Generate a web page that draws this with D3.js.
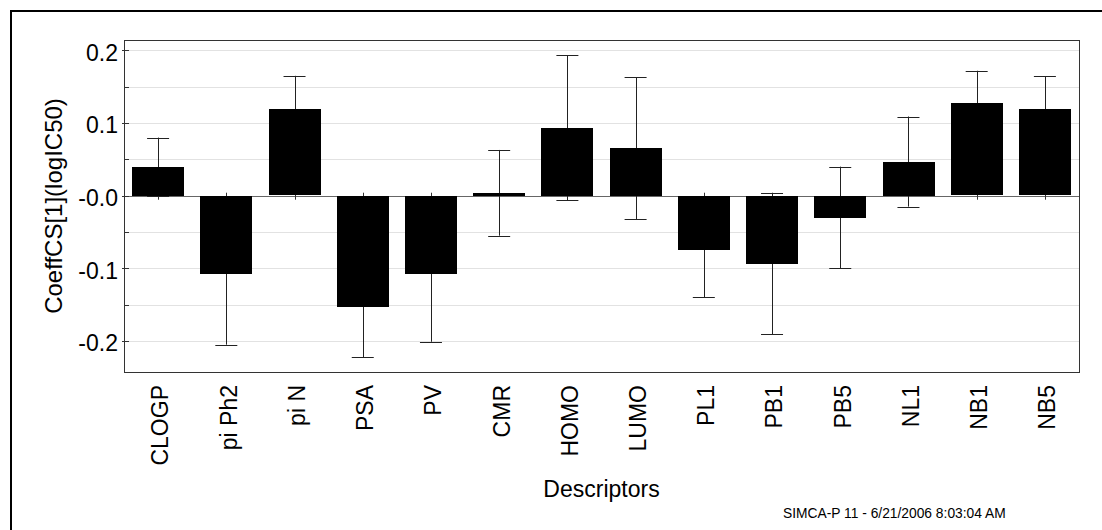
<!DOCTYPE html>
<html lang="en">
	<head>
		<meta charset="utf-8">
		<title>CoeffCS Descriptors</title>
		<script type="text/javascript" src="https://cdn.jsdelivr.net/npm/d3@7"></script>
		<style>
			body { margin: 0; background: #fff; }
			text { font-family: "Liberation Sans", Arial, sans-serif; fill: #000; }
		</style>
	</head>
	<body>
		<script type="text/javascript">

			var w = 1102;
			var h = 530;

			// plot box
			var plotLeft = 124, plotRight = 1079, plotTop = 40, plotBottom = 372;

			var categories = ["CLOGP", "pi Ph2", "pi N", "PSA", "PV", "CMR", "HOMO", "LUMO", "PL1", "PB1", "PB5", "NL1", "NB1", "NB5"];
			var coeff = [0.040, -0.108, 0.119, -0.153, -0.108, 0.004, 0.0935, 0.0655, -0.0745, -0.0935, -0.030, 0.047, 0.127, 0.119];
			var errs = [0.040, 0.097, 0.046, 0.069, 0.093, 0.059, 0.100, 0.0975, 0.065, 0.097, 0.070, 0.062, 0.045, 0.0455];

			var majorTicks = [0.2, 0.1, 0, -0.1, -0.2];
			var tickLabels = ["0.2", "0.1", "-0.0", "-0.1", "-0.2"];
			var minorTicks = [0.15, 0.05, -0.05, -0.15];

			var xScale = d3.scaleBand()
						   .domain(categories)
						   .range([plotLeft, plotRight])
						   .paddingInner(0.24)
						   .paddingOuter(0.12);

			var yScale = d3.scaleLinear()
						   .domain([-0.2426, 0.2143])
						   .range([plotBottom, plotTop]);

			var svg = d3.select("body")
						.append("svg")
						.attr("width", w)
						.attr("height", h);

			// outer frame (only left & top visible)
			svg.append("path")
			   .attr("d", "M11,530 V11 H1102")
			   .attr("fill", "none")
			   .attr("stroke", "#000")
			   .attr("stroke-width", 2);

			// grid lines every 0.05
			svg.selectAll("line.grid")
				.data(majorTicks.concat(minorTicks))
				.enter()
				.append("line")
				.attr("class", "grid")
				.attr("x1", plotLeft)
				.attr("x2", plotRight)
				.attr("y1", function(d) { return Math.round(yScale(d)) + 0.5; })
				.attr("y2", function(d) { return Math.round(yScale(d)) + 0.5; })
				.attr("stroke", "#e2e2e2")
				.attr("stroke-width", 1);

			// zero line
			svg.append("line")
			   .attr("x1", plotLeft)
			   .attr("x2", plotRight)
			   .attr("y1", Math.round(yScale(0)) + 0.5)
			   .attr("y2", Math.round(yScale(0)) + 0.5)
			   .attr("stroke", "#666");

			// category ticks on the zero line
			svg.selectAll("line.xtick")
				.data(categories)
				.enter()
				.append("line")
				.attr("class", "xtick")
				.attr("x1", function(d) { return Math.round(xScale(d) + xScale.bandwidth() / 2) + 0.5; })
				.attr("x2", function(d) { return Math.round(xScale(d) + xScale.bandwidth() / 2) + 0.5; })
				.attr("y1", yScale(0) - 3)
				.attr("y2", yScale(0) + 4)
				.attr("stroke", "#333");

			// error bars (drawn under the bars)
			var eb = svg.selectAll("g.err")
				.data(coeff)
				.enter()
				.append("g")
				.attr("class", "err")
				.attr("stroke", "#222")
				.attr("stroke-width", 1);

			eb.append("line")
			  .attr("x1", function(d, i) { return Math.round(xScale(categories[i]) + xScale.bandwidth() / 2) + 0.5; })
			  .attr("x2", function(d, i) { return Math.round(xScale(categories[i]) + xScale.bandwidth() / 2) + 0.5; })
			  .attr("y1", function(d, i) { return yScale(d + errs[i]); })
			  .attr("y2", function(d, i) { return yScale(d - errs[i]); });

			eb.selectAll("line.cap")
			  .data(function(d, i) { return [[i, d + errs[i]], [i, d - errs[i]]]; })
			  .enter()
			  .append("line")
			  .attr("class", "cap")
			  .attr("x1", function(d) { return xScale(categories[d[0]]) + xScale.bandwidth() / 2 - 11; })
			  .attr("x2", function(d) { return xScale(categories[d[0]]) + xScale.bandwidth() / 2 + 11; })
			  .attr("y1", function(d) { return Math.round(yScale(d[1])) + 0.5; })
			  .attr("y2", function(d) { return Math.round(yScale(d[1])) + 0.5; });

			// bars
			svg.selectAll("rect.bar")
				.data(coeff)
				.enter()
				.append("rect")
				.attr("class", "bar")
				.attr("x", function(d, i) { return Math.round(xScale(categories[i])); })
				.attr("y", function(d) { return Math.round(yScale(Math.max(0, d))); })
				.attr("width", Math.round(xScale.bandwidth()))
				.attr("height", function(d) { return Math.max(1, Math.round(Math.abs(yScale(d) - yScale(0)))); })
				.attr("fill", "#000");

			// plot frame
			svg.append("rect")
			   .attr("x", plotLeft + 0.5)
			   .attr("y", plotTop + 0.5)
			   .attr("width", plotRight - plotLeft)
			   .attr("height", plotBottom - plotTop)
			   .attr("fill", "none")
			   .attr("stroke", "#333");

			// y ticks
			svg.selectAll("line.ymajor")
				.data(majorTicks)
				.enter()
				.append("line")
				.attr("class", "ymajor")
				.attr("x1", plotLeft - 2)
				.attr("x2", plotLeft + 5)
				.attr("y1", function(d) { return Math.round(yScale(d)) + 0.5; })
				.attr("y2", function(d) { return Math.round(yScale(d)) + 0.5; })
				.attr("stroke", "#333");

			svg.selectAll("line.yminor")
				.data(minorTicks)
				.enter()
				.append("line")
				.attr("class", "yminor")
				.attr("x1", plotLeft)
				.attr("x2", plotLeft + 5)
				.attr("y1", function(d) { return Math.round(yScale(d)) + 0.5; })
				.attr("y2", function(d) { return Math.round(yScale(d)) + 0.5; })
				.attr("stroke", "#333");

			svg.selectAll("text.ylab")
				.data(majorTicks)
				.enter()
				.append("text")
				.attr("class", "ylab")
				.text(function(d, i) { return tickLabels[i]; })
				.attr("x", plotLeft - 6)
				.attr("y", function(d) { return yScale(d) + 2; })
				.attr("dy", "0.36em")
				.attr("text-anchor", "end")
				.attr("font-size", "23px");

			// x labels, rotated
			svg.selectAll("text.xlab")
				.data(categories)
				.enter()
				.append("text")
				.attr("class", "xlab")
				.text(function(d) { return d; })
				.attr("transform", function(d) {
					return "translate(" + (xScale(d) + xScale.bandwidth() / 2) + "," + (plotBottom + 13) + ") rotate(-90)";
				})
				.attr("dy", "0.45em")
				.attr("text-anchor", "end")
				.attr("font-size", "23px");

			// axis titles
			svg.append("text")
			   .text("Descriptors")
			   .attr("x", (plotLeft + plotRight) / 2)
			   .attr("y", 497)
			   .attr("text-anchor", "middle")
			   .attr("font-size", "23px");

			svg.append("text")
			   .text("CoeffCS[1](logIC50)")
			   .attr("transform", "translate(62," + ((plotTop + plotBottom) / 2) + ") rotate(-90)")
			   .attr("text-anchor", "middle")
			   .attr("font-size", "24px");

			svg.append("text")
			   .text("SIMCA-P 11 - 6/21/2006 8:03:04 AM")
			   .attr("x", 783)
			   .attr("y", 518)
			   .attr("font-size", "13.8px");

		</script>
	</body>
</html>
